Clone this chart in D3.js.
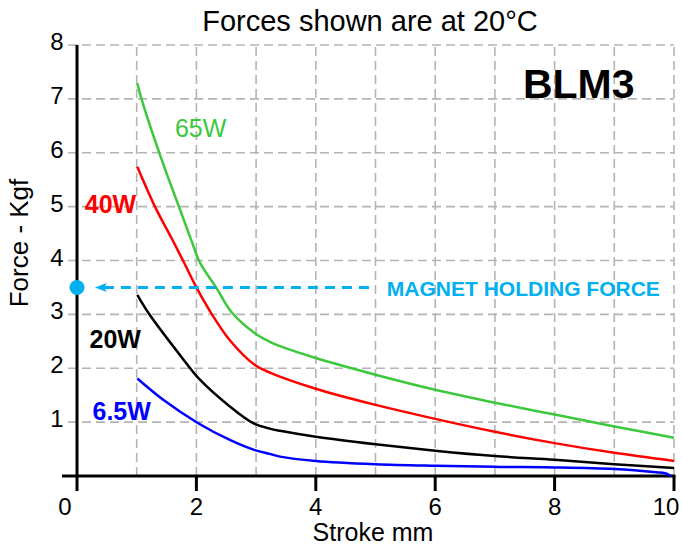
<!DOCTYPE html>
<html>
<head>
<meta charset="utf-8">
<script src="https://cdn.jsdelivr.net/npm/d3@7"></script>
<style>
  body { margin: 0; background: #fff; }
  svg { display: block; font-family: "Liberation Sans", Arial, sans-serif; }
</style>
</head>
<body>
<svg id="chart" width="682" height="547"></svg>
<script>
// stroke (mm) vs force (kgf)
const watts65 = [[1.01, 7.29], [1.08, 7.0], [1.39, 5.96], [1.71, 4.99], [1.92, 4.36], [2.06, 3.96], [2.33, 3.5], [2.59, 3.04], [2.98, 2.65], [3.23, 2.49], [3.4, 2.41], [4, 2.19], [5, 1.88], [6, 1.6], [7, 1.36], [8, 1.14], [9, 0.92], [10, 0.71]];
const watts40 = [[1.01, 5.74], [1.31, 4.99], [1.6, 4.38], [1.78, 3.99], [2.0, 3.5], [2.25, 3.02], [2.56, 2.52], [2.98, 2.06], [3.23, 1.92], [4, 1.62], [5, 1.32], [6, 1.06], [7, 0.82], [8, 0.61], [9, 0.43], [10, 0.28]];
const watts20 = [[1.01, 3.36], [1.2, 3.02], [1.84, 2.08], [2.03, 1.82], [2.56, 1.29], [2.95, 0.98], [3.23, 0.88], [3.4, 0.84], [4, 0.73], [5, 0.59], [6, 0.47], [7, 0.37], [8, 0.3], [9, 0.22], [10, 0.15]];
const watts6_5 = [[1.01, 1.81], [1.45, 1.41], [2.03, 0.98], [2.56, 0.67], [2.98, 0.48], [3.23, 0.41], [3.4, 0.36], [4, 0.28], [5, 0.22], [6, 0.19], [7, 0.17], [8, 0.16], [9, 0.13], [9.7, 0.07], [9.85, 0.05], [9.95, 0.0]];
const magnetForce = 3.5;
const xTicks = [0, 2, 4, 6, 8, 10];
const yTicks = [1, 2, 3, 4, 5, 6, 7, 8];
const gridX = [1, 2, 3, 4, 5, 6, 7, 8, 9, 10];

const svg = d3.select("#chart");
const x = d3.scaleLinear().domain([0, 10]).range([77, 674]);
const y = d3.scaleLinear().domain([0, 8]).range([476, 45]);

const gridColor = "#b4b4b4";

// grid
svg.append("g").selectAll("line").data(gridX).join("line")
  .attr("x1", d => x(d)).attr("x2", d => x(d))
  .attr("y1", y(0)).attr("y2", y(8))
  .attr("stroke", gridColor).attr("stroke-width", 1.6).attr("stroke-dasharray", "9,5");
svg.append("g").selectAll("line").data(yTicks).join("line")
  .attr("x1", x(0) - 9).attr("x2", x(10))
  .attr("y1", d => y(d)).attr("y2", d => y(d))
  .attr("stroke", gridColor).attr("stroke-width", 1.6).attr("stroke-dasharray", "9,5");

// axes
svg.append("line").attr("x1", x(0)).attr("x2", x(0)).attr("y1", y(8)).attr("y2", y(0) + 15)
  .attr("stroke", "#000").attr("stroke-width", 3);
svg.append("line").attr("x1", x(0) - 15).attr("x2", x(10) + 1.5).attr("y1", y(0)).attr("y2", y(0))
  .attr("stroke", "#000").attr("stroke-width", 3);
svg.append("g").selectAll("line").data(xTicks.slice(1)).join("line")
  .attr("x1", d => x(d)).attr("x2", d => x(d))
  .attr("y1", y(0)).attr("y2", y(0) + 15)
  .attr("stroke", "#000").attr("stroke-width", 3);

svg.append("g").selectAll("text").data(xTicks).join("text")
  .attr("x", d => x(d) + (d === 0 ? -12 : d === 10 ? -8 : 0))
  .attr("y", y(0) + 39)
  .attr("text-anchor", "middle").attr("font-size", 24)
  .text(d => d);
svg.append("g").selectAll("text").data(yTicks).join("text")
  .attr("x", x(0) - 20).attr("y", d => y(d) + 5)
  .attr("text-anchor", "middle").attr("font-size", 24)
  .text(d => d);

svg.append("text").attr("x", 373).attr("y", 541).attr("text-anchor", "middle")
  .attr("font-size", 25).text("Stroke mm");
svg.append("text").attr("transform", "translate(28,243) rotate(-90)").attr("text-anchor", "middle")
  .attr("font-size", 26).text("Force - Kgf");
svg.append("text").attr("x", 370).attr("y", 31).attr("text-anchor", "middle")
  .attr("font-size", 29).text("Forces shown are at 20°C");
svg.append("text").attr("x", x(7.47)).attr("y", y(7.01))
  .attr("font-size", 41).attr("font-weight", "bold").text("BLM3");

// curves
const line = d3.line().x(d => x(d[0])).y(d => y(d[1])).curve(d3.curveCatmullRom.alpha(0.5));
const series = [
  { data: watts65, color: "#3cc83c" },
  { data: watts40, color: "#ff0000" },
  { data: watts20, color: "#000000" },
  { data: watts6_5, color: "#0000ff" },
];
svg.append("g").selectAll("path").data(series).join("path")
  .attr("d", d => line(d.data))
  .attr("fill", "none").attr("stroke", d => d.color).attr("stroke-width", 2.5);

svg.append("text").attr("x", x(1.64)).attr("y", y(6.29)).attr("font-size", 25)
  .attr("fill", "#3cc83c").text("65W");
svg.append("text").attr("x", x(0.13)).attr("y", y(4.88)).attr("font-size", 25)
  .attr("font-weight", "bold").attr("fill", "#ff0000").text("40W");
svg.append("text").attr("x", x(0.21)).attr("y", y(2.37)).attr("font-size", 25)
  .attr("font-weight", "bold").attr("fill", "#000").text("20W");
svg.append("text").attr("x", x(0.26)).attr("y", y(1.04)).attr("font-size", 25)
  .attr("font-weight", "bold").attr("fill", "#0000ff").text("6.5W");

// magnet holding force
const blue = "#00b0f0";
const my = y(magnetForce);
const tip = x(0.3);
svg.append("line").attr("x1", tip + 9).attr("x2", x(4.97))
  .attr("y1", my).attr("y2", my)
  .attr("stroke", blue).attr("stroke-width", 3).attr("stroke-dasharray", "10,7");
svg.append("path")
  .attr("d", `M${tip},${my} L${tip + 12},${my - 4.5} L${tip + 9},${my} L${tip + 12},${my + 4.5} Z`)
  .attr("fill", blue);
svg.append("circle").attr("cx", x(0)).attr("cy", my).attr("r", 7.5).attr("fill", blue);
svg.append("text").attr("x", x(5.19)).attr("y", y(3.34)).attr("font-size", 21)
  .attr("font-weight", "bold").attr("fill", blue).text("MAGNET HOLDING FORCE");
</script>
</body>
</html>
